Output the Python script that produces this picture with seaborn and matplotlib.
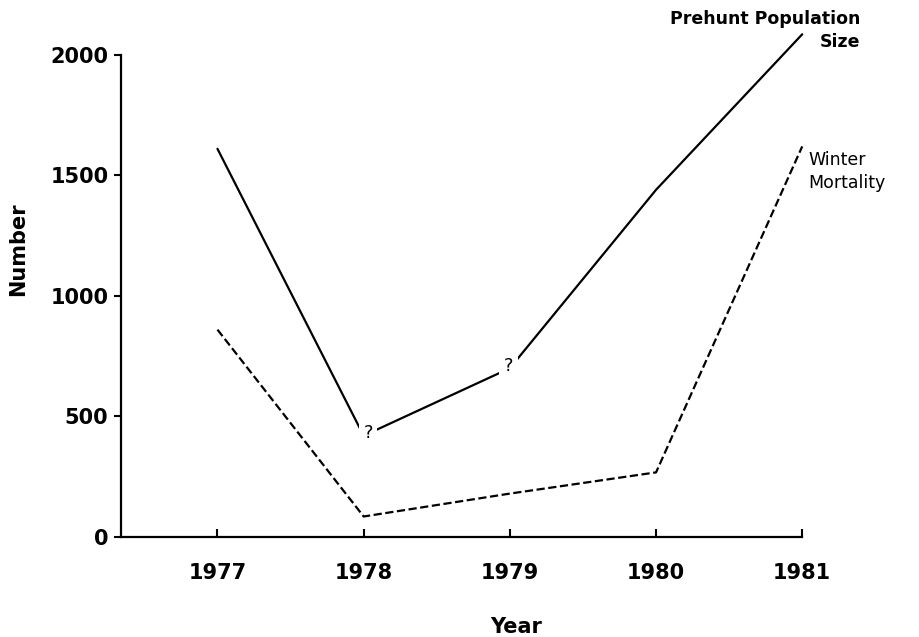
import matplotlib
matplotlib.use("Agg")
import matplotlib.pyplot as plt
import seaborn as sns
import pandas as pd

years = [1977, 1978, 1979, 1980, 1981]
prehunt = [1610, 420, 700, 1440, 2085]
winter_mortality = [860, 85, 180, 268, 1620]
uncertain_years = [1978, 1979]
year_labels = ["1977", "1978", "1979", "1980", "1981"]
y_ticks = [0, 500, 1000, 1500, 2000]

sns.set_style("ticks")
plt.rcParams["font.family"] = ["DejaVu Sans"]
for key in ["text.color", "axes.labelcolor", "xtick.color", "ytick.color",
            "axes.edgecolor"]:
    plt.rcParams[key] = "black"

df = pd.DataFrame({"Year": years, "Prehunt": prehunt, "Winter": winter_mortality})

fig = plt.figure(figsize=(9.2, 6.37), dpi=100)
ax = fig.add_axes([0.1315, 0.157, 0.7405, 0.757])

sns.lineplot(data=df, x="Year", y="Prehunt", ax=ax, color="black", lw=1.6,
             clip_on=False, zorder=2)
sns.lineplot(data=df, x="Year", y="Winter", ax=ax, color="black", lw=1.6,
             dashes=(5, 2.6), linestyle="--", clip_on=False, zorder=2)

# question marks sit on the solid line where the estimate is uncertain
for yr in uncertain_years:
    val = dict(zip(years, prehunt))[yr]
    dx = 0.03 if yr == 1978 else -0.01
    ax.text(yr + dx, val + 10, "?", fontsize=13, ha="center", va="center",
            bbox=dict(boxstyle="square,pad=0.25", fc="white", ec="none"),
            zorder=3, clip_on=False)

ax.text(1981.40, 2150, "Prehunt Population", fontsize=12.5, fontweight="bold",
        ha="right", va="center", clip_on=False)
ax.text(1981.40, 2052, "Size", fontsize=12.5, fontweight="bold",
        ha="right", va="center", clip_on=False)
ax.text(1981.04, 1562, "Winter", fontsize=12.5, ha="left", va="center",
        clip_on=False)
ax.text(1981.04, 1470, "Mortality", fontsize=12.5, ha="left", va="center",
        clip_on=False)

ax.set_xlim(1976.34, 1981)
ax.set_ylim(0, 2000)
ax.set_xticks(years)
ax.set_xticklabels(year_labels, fontsize=15, fontweight="bold")
ax.set_yticks(y_ticks)
ax.set_yticklabels([str(v) for v in y_ticks], fontsize=15, fontweight="bold")
ax.tick_params(axis="x", direction="in", length=6, width=1.5, pad=19)
ax.tick_params(axis="y", direction="out", length=5, width=1.5, pad=4)

sns.despine(ax=ax)
for side in ["left", "bottom"]:
    ax.spines[side].set_linewidth(1.6)

ax.set_xlabel("Year", fontsize=15, fontweight="bold", va="center")
ax.set_ylabel("Number", fontsize=15, fontweight="bold", va="center")
ax.xaxis.set_label_coords(0.58, -0.187)
ax.yaxis.set_label_coords(-0.151, 0.597)

fig.savefig("out.png", dpi=100)
